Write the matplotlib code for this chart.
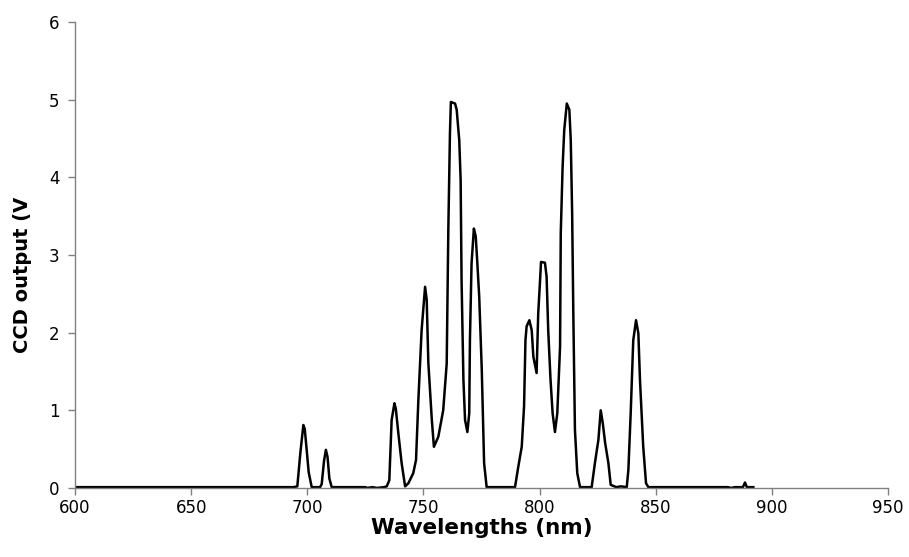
import matplotlib.pyplot as plt
from matplotlib.transforms import Bbox

# spectrum (nm, V)
wavelength = [600, 694, 695.7, 697.0, 698.3, 698.9, 699.7, 700.6, 701.9,
              705.5, 706.2, 707.2, 708.0, 708.7, 709.5, 710.5,
              725.0, 725.8, 728.0, 730.0, 733.0,
              734.2, 735.3, 736.3, 737.5, 738.1, 739.2, 740.6, 742.1,
              743.5, 745.6, 746.8, 747.8, 749.2, 750.7, 751.4, 752.1,
              753.6, 754.5, 756.4, 758.5, 760.0, 760.7, 761.4, 761.8,
              763.6, 764.3, 765.4, 766.0, 766.4, 767.2, 767.9, 768.9,
              769.7, 770.0, 770.7, 771.7, 772.5, 773.2, 774.0, 775.1,
              776.1, 777.2, 789.4, 790.8, 792.3, 793.3, 793.9, 794.4,
              795.6, 796.6, 797.3, 798.7, 799.4, 800.2, 800.6, 802.3,
              803.0, 803.7, 804.7, 805.6, 806.6, 807.6, 808.8, 809.1,
              809.9, 810.6, 811.7, 812.8, 813.4, 814.0, 814.5, 815.2,
              816.2, 817.4, 822.4, 823.8, 825.3, 826.3, 827.2, 828.2,
              829.6, 830.6, 833.0, 835.0, 837.5, 838.2, 839.2, 840.3,
              841.5, 842.5, 843.2, 844.6, 845.8, 846.8, 881.0, 882.5,
              884.0, 887.5, 888.4, 889.2, 892.0]
ccd_output = [0.01, 0.01, 0.02, 0.45, 0.81, 0.76, 0.50, 0.20, 0.01,
              0.01, 0.05, 0.35, 0.49, 0.40, 0.12, 0.01,
              0.01, 0.00, 0.01, 0.00, 0.01,
              0.02, 0.10, 0.875, 1.09, 1.02, 0.70, 0.32, 0.02,
              0.06, 0.19, 0.36, 1.13, 2.03, 2.59, 2.42, 1.61,
              0.875, 0.53, 0.66, 1.00, 1.60, 3.32, 4.57, 4.97,
              4.95, 4.87, 4.48, 3.97, 2.68, 1.39, 0.875, 0.72,
              0.96, 1.90, 2.89, 3.34, 3.24, 2.89, 2.46, 1.52,
              0.32, 0.01, 0.01, 0.27, 0.53, 1.05, 1.90, 2.08,
              2.16, 2.03, 1.69, 1.48, 2.25, 2.68, 2.91, 2.90,
              2.72, 2.03, 1.39, 0.96, 0.72, 0.96, 1.82, 3.28,
              4.14, 4.61, 4.95, 4.87, 4.48, 3.54, 2.25, 0.75,
              0.19, 0.01, 0.01, 0.32, 0.62, 1.00, 0.83, 0.58,
              0.32, 0.04, 0.01, 0.02, 0.01, 0.23, 0.96, 1.90,
              2.16, 1.99, 1.39, 0.53, 0.06, 0.01, 0.01, 0.00,
              0.01, 0.01, 0.07, 0.01, 0.01]

x_ticks = [600, 650, 700, 750, 800, 850, 900, 950]
y_ticks = [0, 1, 2, 3, 4, 5, 6]

fig = plt.figure(figsize=(9.09, 5.57), dpi=100)
ax = fig.add_axes([0.0825, 0.124, 0.8945, 0.8365])

ax.plot(wavelength, ccd_output, color='black', lw=1.8, solid_joinstyle='round')

ax.set_xlim(600, 950)
ax.set_ylim(0, 6)
ax.set_xticks(x_ticks)
ax.set_yticks(y_ticks)

for side in ['top', 'right']:
    ax.spines[side].set_visible(False)
for side in ['left', 'bottom']:
    ax.spines[side].set_color('#808080')
    ax.spines[side].set_linewidth(1.0)

ax.tick_params(direction='out', length=5, width=1, color='#808080',
               labelsize=12, labelcolor='black')
ax.tick_params(axis='y', pad=6)
ax.tick_params(axis='x', pad=3)

ax.set_xlabel('Wavelengths (nm)', fontsize=15.5, fontweight='bold', labelpad=1)

# y label is cut off at the top in the original
ylab = fig.text(0.0248, (557 - 353) / 557, 'CCD output (V)', rotation=90,
                ha='center', va='bottom', fontsize=14, fontweight='bold')
ylab.set_clip_box(Bbox([[0, 0], [909, 557 - 197]]))
ylab.set_clip_on(True)

fig.savefig('out.png', dpi=100)
